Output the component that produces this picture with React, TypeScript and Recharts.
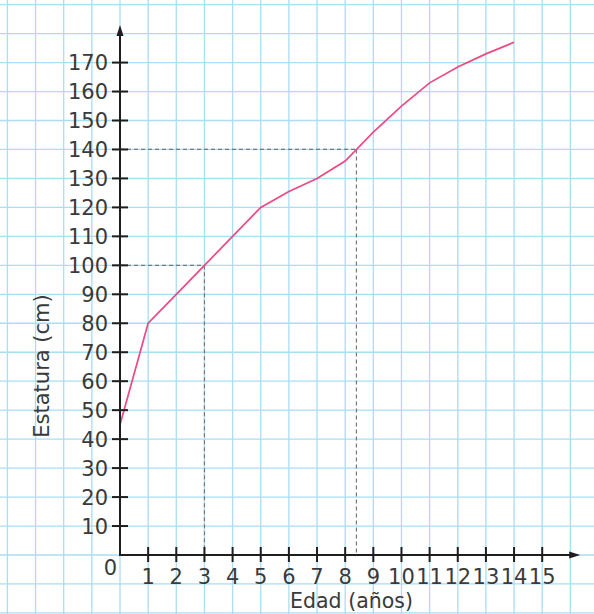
import React from 'react';
import { LineChart, Line, XAxis, YAxis, ReferenceLine } from 'recharts';

const ages = [0, 1, 2, 3, 4, 5, 6, 7, 8, 9, 10, 11, 12, 13, 14];
const heights = [45, 80, 90, 100, 110, 120, 125.5, 130, 136, 146, 155, 163, 168.5, 173, 177];
const xTicks = [0, 1, 2, 3, 4, 5, 6, 7, 8, 9, 10, 11, 12, 13, 14, 15];
const yTicks = [10, 20, 30, 40, 50, 60, 70, 80, 90, 100, 110, 120, 130, 140, 150, 160, 170];
const gridX = [-4, -3, -2, -1, 0, 1, 2, 3, 4, 5, 6, 7, 8, 9, 10, 11, 12, 13, 14, 15, 16, 17];
const gridY = [-20, -10, 0, 10, 20, 30, 40, 50, 60, 70, 80, 90, 100, 110, 120, 130, 140, 150, 160, 170, 180, 190];
const guideX = [3, 8.4];
const guideY = [100, 140];
const xLabel = 'Edad (años)';
const yLabel = 'Estatura (cm)';

const X_MAX = 16.84;
const Y_MAX = 191.6;
const X_MIN_EXT = -4.4;
const Y_MIN_EXT = -20.6;
const X_ARROW = 16.35;
const Y_ARROW = 183;

const data = ages.map((a, i) => ({ age: a, height: heights[i] }));

const FONT = '"DejaVu Sans", sans-serif';
const TEXT = '#3a3a3a';
const GRID = '#a9def4';
const AXIS = '#1e1e1e';

const XTick = (props: any) => {
  const { x, y, payload } = props;
  const v = payload.value;
  if (v === 0) {
    return (
      <text x={x - 3} y={y + 20} textAnchor="end" fontFamily={FONT} fontSize={21} fill={TEXT}>
        0
      </text>
    );
  }
  return (
    <g>
      <line x1={x} x2={x} y1={y - 8} y2={y + 7} stroke={AXIS} strokeWidth={2} />
      <text x={x} y={y + 29} textAnchor="middle" fontFamily={FONT} fontSize={21} fill={TEXT}>
        {v}
      </text>
    </g>
  );
};

const YTick = (props: any) => {
  const { x, y, payload } = props;
  return (
    <g>
      <line x1={x - 8} x2={x + 8} y1={y} y2={y} stroke={AXIS} strokeWidth={2} />
      <text x={x - 12} y={y + 7.5} textAnchor="end" fontFamily={FONT} fontSize={21} fill={TEXT}>
        {payload.value}
      </text>
    </g>
  );
};

const HArrow = (props: any) => {
  const { x1, y1, x2, y2 } = props;
  return (
    <g>
      <line x1={x1} y1={y1} x2={x2 - 6} y2={y2} stroke={AXIS} strokeWidth={2} />
      <polygon points={`${x2},${y2} ${x2 - 11},${y2 - 3.5} ${x2 - 11},${y2 + 3.5}`} fill={AXIS} />
    </g>
  );
};

const VArrow = (props: any) => {
  const { x1, y1, x2, y2 } = props;
  const top = Math.min(y1, y2);
  const bottom = Math.max(y1, y2);
  return (
    <g>
      <line x1={x1} y1={bottom + 1} x2={x2} y2={top + 6} stroke={AXIS} strokeWidth={2} />
      <polygon points={`${x1},${top} ${x1 - 3.5},${top + 11} ${x1 + 3.5},${top + 11}`} fill={AXIS} />
    </g>
  );
};

export default function App() {
  return (
    <div style={{ position: 'absolute', left: 0, top: 0, background: '#fff' }}>
      <LineChart width={594} height={614} data={data} margin={{ top: 0, right: 0, bottom: 0, left: 0 }}>
        <XAxis
          dataKey="age"
          type="number"
          domain={[0, X_MAX]}
          allowDataOverflow
          ticks={xTicks}
          interval={0}
          height={59}
          axisLine={false}
          tickLine={false}
          tickSize={0}
          tickMargin={0}
          tick={<XTick />}
          label={{
            content: (p: any) => {
              const vb = p.viewBox || { x: 120, y: 555, width: 474, height: 59 };
              return (
                <text x={vb.x + 231.5} y={vb.y + vb.height - 6} textAnchor="middle" fontFamily={FONT} fontSize={20.5} fill={TEXT}>
                  {xLabel}
                </text>
              );
            },
          }}
        />
        <YAxis
          type="number"
          domain={[0, Y_MAX]}
          allowDataOverflow
          ticks={yTicks}
          interval={0}
          width={120}
          axisLine={false}
          tickLine={false}
          tickSize={0}
          tickMargin={0}
          tick={<YTick />}
          label={{
            content: (p: any) => {
              const vb = p.viewBox || { x: 0, y: 0, width: 120, height: 555 };
              const cx = vb.x + 42;
              const cy = vb.y + 366;
              return (
                <text
                  x={cx}
                  y={cy}
                  transform={`rotate(-90, ${cx}, ${cy})`}
                  textAnchor="middle"
                  dominantBaseline="central"
                  fontFamily={FONT}
                  fontSize={21}
                  fill={TEXT}
                >
                  {yLabel}
                </text>
              );
            },
          }}
        />
        {gridX.map((gx) => (
          <ReferenceLine
            key={`gx${gx}`}
            segment={[{ x: gx, y: Y_MIN_EXT }, { x: gx, y: Y_MAX }]}
            stroke={GRID}
            strokeWidth={1.3}
            ifOverflow="visible"
            zIndex={-100}
          />
        ))}
        {gridY.map((gy) => (
          <ReferenceLine
            key={`gy${gy}`}
            segment={[{ x: X_MIN_EXT, y: gy }, { x: X_MAX, y: gy }]}
            stroke={GRID}
            strokeWidth={1.3}
            ifOverflow="visible"
            zIndex={-100}
          />
        ))}
        {guideX.map((gx, i) => (
          <ReferenceLine
            key={`vh${i}`}
            segment={[{ x: 0, y: guideY[i] }, { x: gx, y: guideY[i] }]}
            stroke="#777"
            strokeWidth={1.2}
            strokeDasharray="4 3"
            ifOverflow="visible"
          />
        ))}
        {guideX.map((gx, i) => (
          <ReferenceLine
            key={`vv${i}`}
            segment={[{ x: gx, y: guideY[i] }, { x: gx, y: 0 }]}
            stroke="#777"
            strokeWidth={1.2}
            strokeDasharray="4 3"
            ifOverflow="visible"
          />
        ))}
        <ReferenceLine
          segment={[{ x: 0, y: 0 }, { x: X_ARROW, y: 0 }]}
          ifOverflow="visible"
          shape={<HArrow />}
          zIndex={500}
        />
        <ReferenceLine
          segment={[{ x: 0, y: 0 }, { x: 0, y: Y_ARROW }]}
          ifOverflow="visible"
          shape={<VArrow />}
          zIndex={500}
        />
        <Line
          type="linear"
          dataKey="height"
          stroke="#ec4a84"
          strokeWidth={1.7}
          dot={false}
          activeDot={false}
          isAnimationActive={false}
        />
      </LineChart>
    </div>
  );
}
